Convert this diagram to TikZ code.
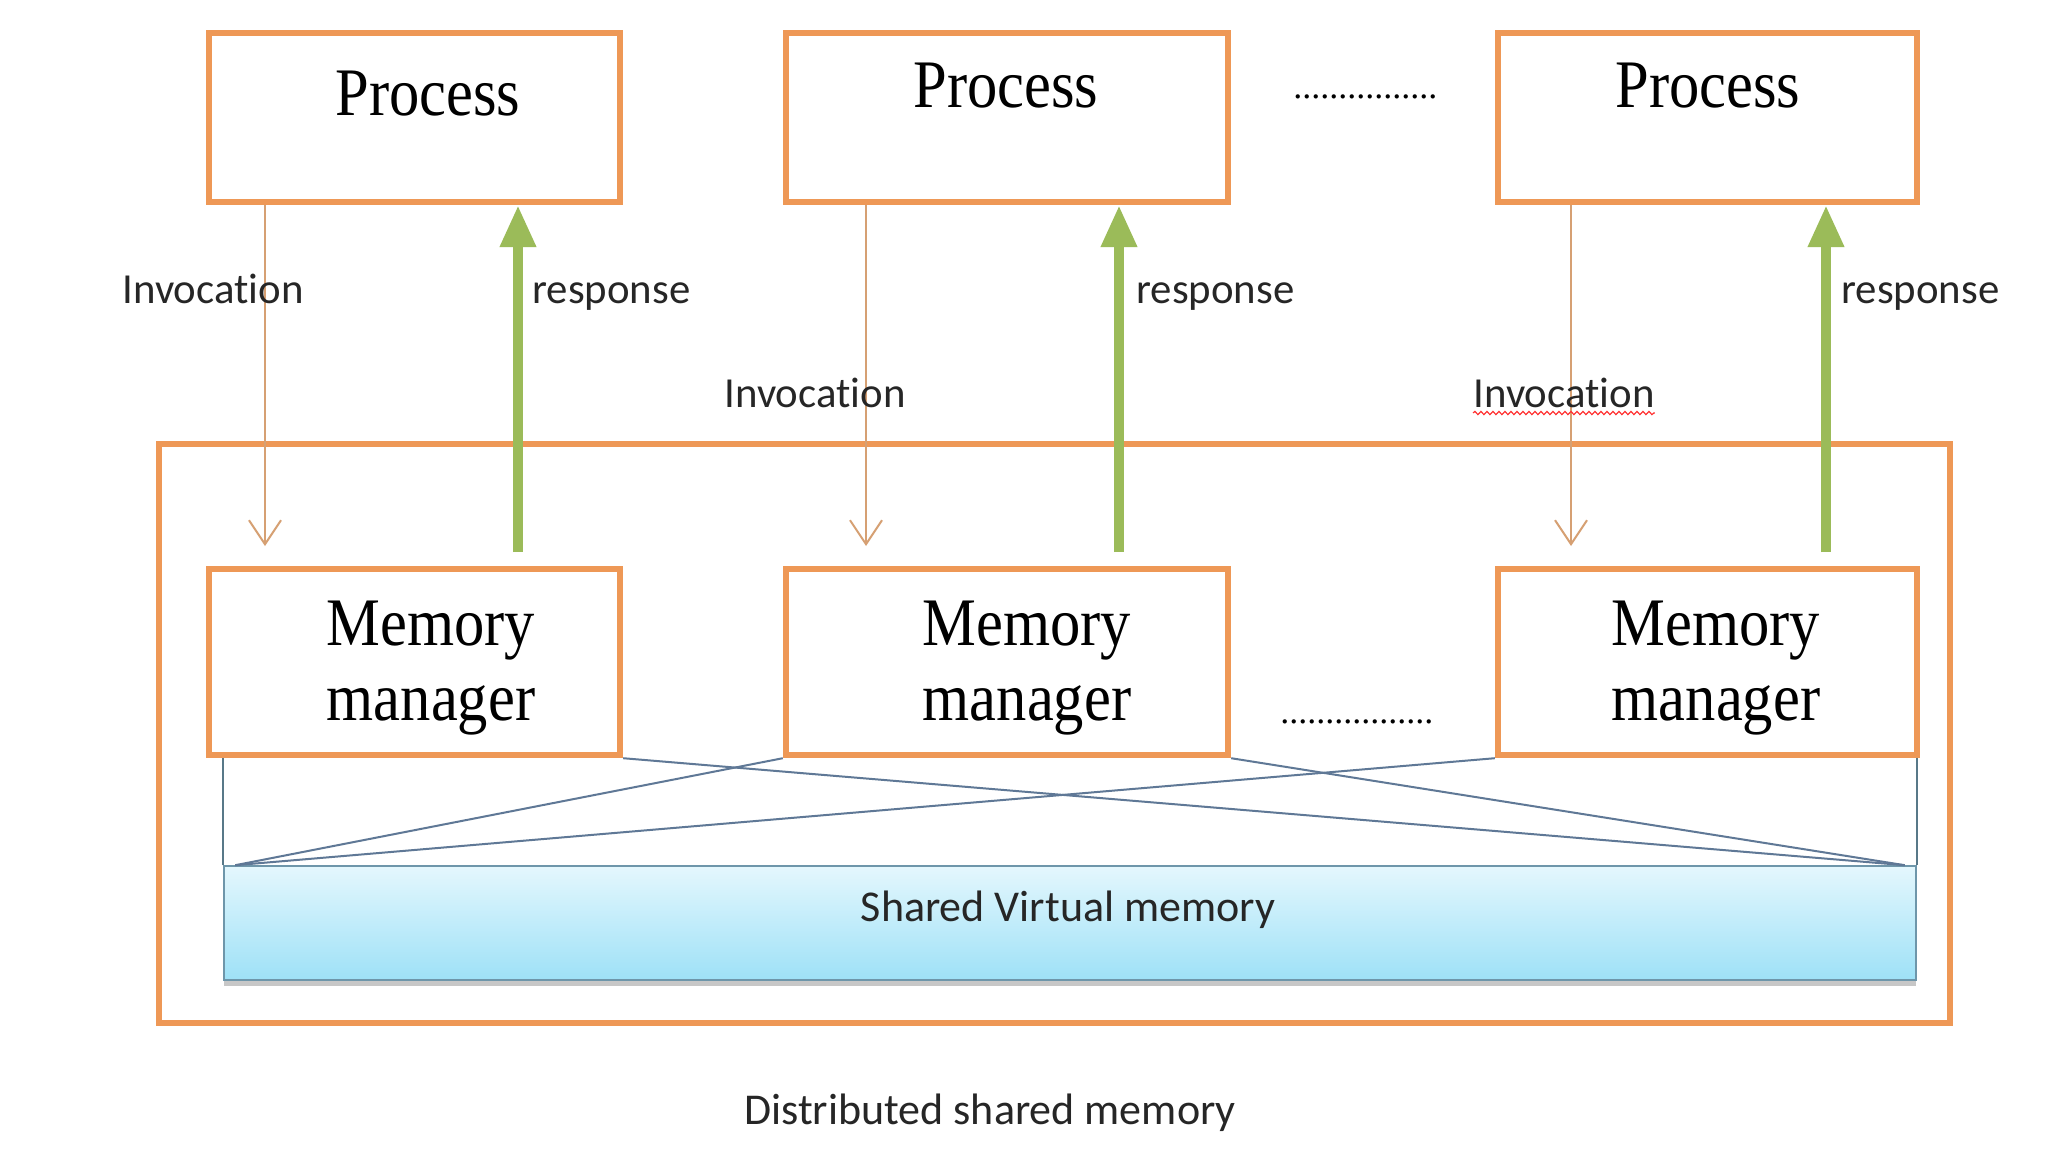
\documentclass[tikz,border=0pt]{standalone}
\usepackage{fontspec}
\setmainfont{Liberation Serif}
\newfontfamily\serifP[FakeStretch=0.89]{Liberation Serif}
\newfontfamily\calib[Ligatures=NoCommon]{Carlito}
\usetikzlibrary{arrows.meta,shadows,decorations.pathmorphing}
\definecolor{boxorange}{RGB}{238,152,86}
\definecolor{invcol}{RGB}{214,160,115}
\definecolor{respgreen}{RGB}{155,187,89}
\definecolor{linkblue}{RGB}{95,120,150}
\definecolor{svmtop}{RGB}{228,247,253}
\definecolor{svmbot}{RGB}{158,225,247}
\definecolor{svmedge}{RGB}{110,150,170}
\begin{document}
\begin{tikzpicture}[x=0.5pt,y=-0.5pt,
  obox/.style={draw=boxorange, line width=3.2pt, inner sep=0pt, fill=white},
  outerbox/.style={draw=boxorange, line width=3.2pt, inner sep=0pt},
  bigtext/.style={font=\serifP\fontsize{34}{37.5}\selectfont, inner sep=0pt, align=center},
  lbl/.style={font=\calib\fontsize{21.4}{24}\selectfont, inner sep=0pt, text=black!85},
  captxt/.style={font=\calib\fontsize{22}{26}\selectfont, inner sep=0pt, text=black!85},
  dots/.style={font=\fontsize{18}{20}\selectfont, inner sep=0pt, anchor=base west},
  invarrow/.style={draw=invcol, line width=1pt, -{Straight Barb[length=12pt,width=16pt]}},
  resparrow/.style={draw=respgreen, line width=5pt, -{Triangle[length=21pt,width=17pt]}},
  link/.style={draw=linkblue, line width=1pt},
  sideline/.style={draw=svmedge!80!black, line width=0.8pt},
  svmbox/.style={draw=svmedge, line width=0.8pt, top color=svmtop, bottom color=svmbot, inner sep=0pt,
    drop shadow={shadow xshift=0pt, shadow yshift=-3pt, opacity=0.4, fill=black!55}},
  squig/.style={draw=red!80, line width=0.6pt, decorate, decoration={snake, amplitude=0.8pt, segment length=3pt}}
]
\useasboundingbox[fill=white] (0,0) rectangle (2048,1152);

% outer container
\node[outerbox, minimum width=895.5pt, minimum height=289.5pt] (outer) at (1054.5,733.5) {};

% process boxes
\node[obox, minimum width=205.5pt, minimum height=84.5pt] (p1) at (414.5,117.5) {};
\node[obox, minimum width=221pt, minimum height=84.5pt] (p2) at (1007,117.5) {};
\node[obox, minimum width=209.5pt, minimum height=84.5pt] (p3) at (1707.5,117.5) {};
\node[bigtext, anchor=base] (pt1) at (428,115) {Process};
\node[bigtext, anchor=base] (pt2) at (1006,107) {Process};
\node[bigtext, anchor=base] (pt3) at (1708,107) {Process};
\node[dots] (d1) at (1293,98) {................};

% memory manager boxes
\node[obox, minimum width=205.5pt, minimum height=93pt] (m1) at (414.5,662) {};
\node[obox, minimum width=221pt, minimum height=93pt] (m2) at (1007,662) {};
\node[obox, minimum width=209.5pt, minimum height=93pt] (m3) at (1707.5,662) {};
\node[bigtext] (mt1) at (431,668) {Memory\\manager};
\node[bigtext] (mt2) at (1027,668) {Memory\\manager};
\node[bigtext] (mt3) at (1716,668) {Memory\\manager};
\node[dots] (d2) at (1280,723) {.................};

% shared virtual memory
\node[svmbox, minimum width=846pt, minimum height=57pt] (svm) at (1070,923) {};
\node[captxt, anchor=base] (svmt) at (1068,921) {Shared Virtual memory};

% side lines and crossing links
\draw[sideline] (svm.north west) -- (svm.north west |- m1.south);
\draw[sideline] (svm.north east) -- (svm.north east |- m3.south);
\coordinate (lc) at ([xshift=6pt]svm.north west);
\coordinate (rc) at ([xshift=-6pt]svm.north east);
\draw[link] (m1.south east) -- (rc);
\draw[link] (m2.south east) -- (rc);
\draw[link] (m2.south west) -- (lc);
\draw[link] (m3.south west) -- (lc);

% invocation arrows
\coordinate (i1) at (265,546);
\coordinate (i2) at (866,546);
\coordinate (i3) at (1571,546);
\draw[invarrow] (p1.south -| i1) -- (i1);
\draw[invarrow] (p2.south -| i2) -- (i2);
\draw[invarrow] (p3.south -| i3) -- (i3);

% response arrows
\coordinate (r1) at (518,552);
\coordinate (r2) at (1119,552);
\coordinate (r3) at (1826,552);
\draw[resparrow] (r1) -- (r1 |- p1.south);
\draw[resparrow] (r2) -- (r2 |- p2.south);
\draw[resparrow] (r3) -- (r3 |- p3.south);

% labels
\node[lbl, anchor=base] (inv1) at (213,303) {Invocation};
\node[lbl, anchor=base] (inv2) at (815,407) {Invocation};
\node[lbl, anchor=base] (inv3) at (1564,407) {Invocation};
\draw[squig] ([yshift=-3pt]inv3.base west) -- ([yshift=-3pt]inv3.base east);
\node[lbl, anchor=base west] (res1) at (532,303) {response};
\node[lbl, anchor=base west] (res2) at (1136,303) {response};
\node[lbl, anchor=base west] (res3) at (1841,303) {response};

% caption
\node[captxt, anchor=base] (cap) at (990,1124) {Distributed shared memory};
\end{tikzpicture}
\end{document}
